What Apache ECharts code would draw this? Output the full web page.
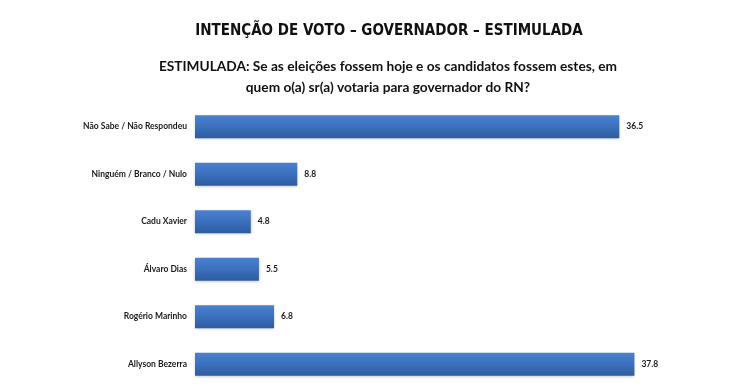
<!DOCTYPE html>
<html><head><meta charset="utf-8">
<script src="https://cdn.jsdelivr.net/npm/echarts@6/dist/echarts.min.js"></script>
<style>html,body{margin:0;padding:0;background:#fff}#c{width:750px;height:389px}</style>
</head><body><div id="c"></div>
<script>
const categories = ["Não Sabe / Não Respondeu", "Ninguém / Branco / Nulo", "Cadu Xavier", "Álvaro Dias", "Rogério Marinho", "Allyson Bezerra"];
const values = [36.5, 8.8, 4.8, 5.5, 6.8, 37.8];
const titleText = "INTENÇÃO DE VOTO – GOVERNADOR – ESTIMULADA";
const subtitleText = "ESTIMULADA: Se as eleições fossem hoje e os candidatos fossem estes, em\nquem o(a) sr(a) votaria para governador do RN?";

const narrow = '"DejaVu Sans Condensed", "Liberation Sans", sans-serif';
const body = 'Lato, "Liberation Sans", sans-serif';
const chart = echarts.init(document.getElementById('c'), null, {renderer: 'canvas'});
chart.setOption({
  backgroundColor: '#fff',
  animation: false,
  title: [{
    text: titleText, left: 384, top: 19, textAlign: 'center',
    textStyle: {fontFamily: narrow, fontWeight: 'bold', fontSize: 15, color: '#111'}
  }, {
    text: subtitleText, left: 383, top: 51, textAlign: 'center',
    textStyle: {fontFamily: body, fontWeight: 'bold', fontSize: 13.7, color: '#111', lineHeight: 21}
  }],
  grid: {left: 195, right: 90, top: 103, bottom: 1, containLabel: false},
  xAxis: {type: 'value', min: 0, max: 40, show: false},
  yAxis: {
    type: 'category', data: categories, inverse: true,
    axisLine: {show: false}, axisTick: {show: false},
    axisLabel: {margin: 8, fontFamily: body, fontWeight: 'bold', fontSize: 8.5, color: '#1a1a1a'}
  },
  series: [{
    type: 'bar', data: values, barWidth: 23,
    itemStyle: {
      color: new echarts.graphic.LinearGradient(0, 0, 0, 1, [
        {offset: 0, color: '#4a82cf'}, {offset: 0.5, color: '#3a70bd'}, {offset: 1, color: '#2d5c9f'}
      ]),
      shadowColor: 'rgba(0,0,0,0.25)', shadowBlur: 3, shadowOffsetY: 1
    },
    label: {show: true, position: 'right', distance: 7, formatter: p => p.value.toFixed(1),
      fontFamily: body, fontWeight: 'bold', fontSize: 8.5, color: '#1a1a1a'}
  }]
});
</script></body></html>
